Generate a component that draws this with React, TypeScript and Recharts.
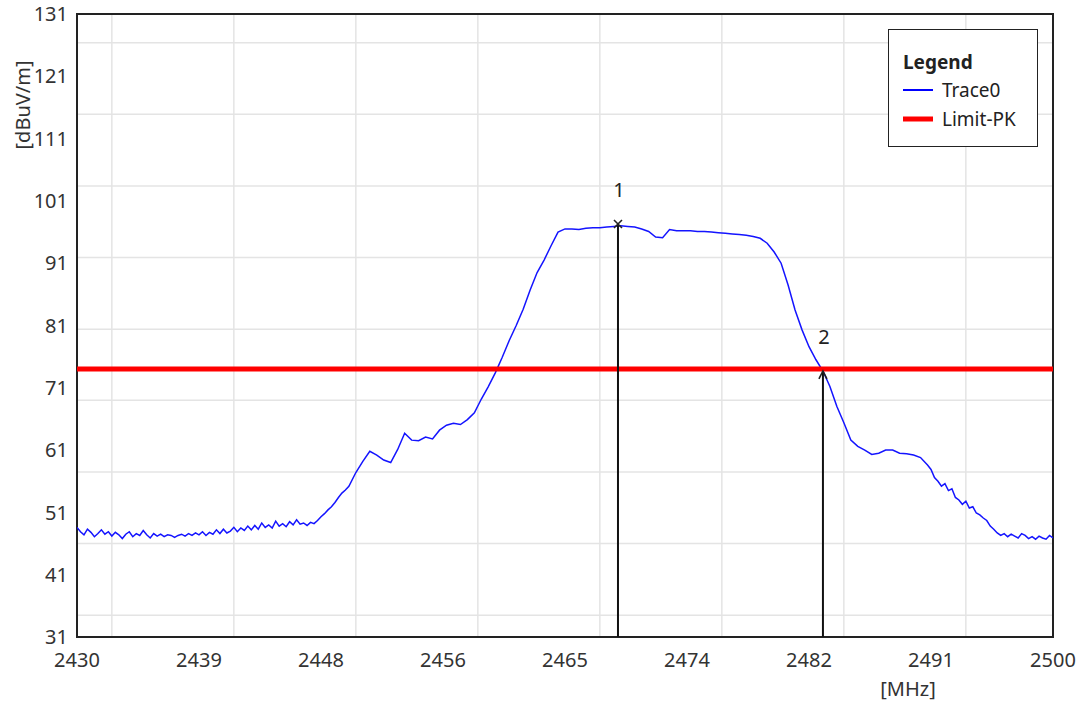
import {
  CartesianGrid,
  Label,
  Legend,
  Line,
  LineChart,
  ReferenceArea,
  ReferenceDot,
  ReferenceLine,
  XAxis,
  YAxis,
} from 'recharts'

const FONT = '"Noto Sans", "Open Sans", sans-serif'
const TRACE_COLOR = '#1414ff'
const LIMIT_COLOR = '#ff0000'

const X_TICKS = [2430, 2438.75, 2447.5, 2456.25, 2465, 2473.75, 2482.5, 2491.25, 2500]
const X_TICK_LABELS = ['2430', '2439', '2448', '2456', '2465', '2474', '2482', '2491', '2500']
const Y_TICKS = [31, 41, 51, 61, 71, 81, 91, 101, 111, 121, 131]
const GRID_X = [2432.5, 2441.25, 2450, 2458.75, 2467.5, 2476.25, 2485, 2493.75]
const GRID_Y = [34.5, 46, 57.5, 69, 80.4, 91.9, 103.4, 114.9, 126.4]

const LIMIT_PK = 74

const MARKERS = [
  { id: '1', f: 2468.8, level: 97.3, kind: 'cross' },
  { id: '2', f: 2483.5, level: 73.7, kind: 'arrow' },
]

// [MHz, dBuV/m]
const TRACE0: [number, number][] = [
  [2430.0, 48.6], [2430.25, 47.9], [2430.5, 47.4], [2430.75, 48.3], [2431.0, 47.8],
  [2431.25, 47.1], [2431.5, 47.6], [2431.75, 48.2], [2432.0, 47.5], [2432.25, 47.9],
  [2432.5, 47.2], [2432.75, 47.8], [2433.0, 47.4], [2433.25, 46.8], [2433.5, 47.5],
  [2433.75, 47.9], [2434.0, 47.1], [2434.25, 47.6], [2434.5, 47.3], [2434.75, 48.1],
  [2435.0, 47.4], [2435.25, 46.9], [2435.5, 47.6], [2435.75, 47.2], [2436.0, 47.5],
  [2436.25, 47.1], [2436.5, 47.4], [2436.75, 47.3], [2437.0, 47.0], [2437.25, 47.3],
  [2437.5, 47.5], [2437.75, 47.2], [2438.0, 47.6], [2438.25, 47.3], [2438.5, 47.7],
  [2438.75, 47.4], [2439.0, 47.9], [2439.25, 47.3], [2439.5, 47.8], [2439.75, 47.5],
  [2440.0, 48.2], [2440.25, 47.6], [2440.5, 48.3], [2440.75, 47.7], [2441.0, 48.0],
  [2441.25, 48.6], [2441.5, 47.9], [2441.75, 48.5], [2442.0, 48.1], [2442.25, 48.8],
  [2442.5, 48.2], [2442.75, 48.9], [2443.0, 48.3], [2443.25, 49.3], [2443.5, 48.6],
  [2443.75, 49.0], [2444.0, 48.5], [2444.25, 49.6], [2444.5, 48.8], [2444.75, 49.2],
  [2445.0, 48.7], [2445.25, 49.5], [2445.5, 49.0], [2445.75, 49.8], [2446.0, 49.1],
  [2446.25, 49.3], [2446.5, 48.9], [2446.75, 49.4], [2447.0, 49.2], [2447.25, 49.7],
  [2447.5, 50.3], [2447.75, 50.8], [2448.0, 51.4], [2448.25, 51.9], [2448.5, 52.6],
  [2448.75, 53.4], [2449.0, 54.1], [2449.25, 54.6], [2449.5, 55.2],
  [2450.0, 57.4], [2450.5, 59.2], [2451.0, 60.8], [2451.5, 60.2], [2452.0, 59.4],
  [2452.5, 59.0], [2453.0, 61.1], [2453.5, 63.7], [2454.0, 62.6], [2454.5, 62.5],
  [2455.0, 63.1], [2455.5, 62.8], [2456.0, 64.2], [2456.5, 65.0], [2457.0, 65.3],
  [2457.5, 65.1], [2458.0, 65.9], [2458.5, 67.0], [2459.0, 69.2], [2459.5, 71.2],
  [2460.0, 73.4], [2460.5, 75.9], [2461.0, 78.6], [2461.5, 81.0], [2462.0, 83.6],
  [2462.5, 86.7], [2463.0, 89.5], [2463.5, 91.5], [2464.0, 93.8], [2464.5, 96.0],
  [2465.0, 96.5], [2465.5, 96.5], [2466.0, 96.4], [2466.5, 96.6], [2467.0, 96.7],
  [2467.5, 96.7], [2468.0, 96.8], [2468.5, 96.9], [2469.0, 97.0], [2469.5, 96.9],
  [2470.0, 96.8], [2470.5, 96.5], [2471.0, 96.1], [2471.5, 95.2], [2472.0, 95.1],
  [2472.5, 96.4], [2473.0, 96.2], [2473.5, 96.2], [2474.0, 96.2], [2474.5, 96.1],
  [2475.0, 96.1], [2475.5, 96.0], [2476.0, 95.9], [2476.5, 95.8], [2477.0, 95.7],
  [2477.5, 95.6], [2478.0, 95.5], [2478.5, 95.3], [2479.0, 95.0], [2479.5, 94.2],
  [2480.0, 92.8], [2480.5, 91.0], [2481.0, 87.5], [2481.5, 83.5], [2482.0, 80.3],
  [2482.5, 77.6], [2483.0, 75.5], [2483.5, 73.7], [2484.0, 71.2], [2484.5, 68.0],
  [2485.0, 65.4], [2485.5, 62.6], [2486.0, 61.6], [2486.5, 61.0], [2487.0, 60.3],
  [2487.5, 60.5], [2488.0, 61.0], [2488.5, 61.0], [2489.0, 60.5], [2489.5, 60.4],
  [2490.0, 60.2], [2490.5, 59.8],
  [2491.0, 58.6], [2491.25, 57.9], [2491.5, 56.6], [2491.75, 56.0], [2492.0, 55.2],
  [2492.25, 55.6], [2492.5, 54.5], [2492.75, 54.8], [2493.0, 53.4], [2493.25, 53.0],
  [2493.5, 52.3], [2493.75, 52.8], [2494.0, 51.7], [2494.25, 51.9], [2494.5, 50.9],
  [2494.75, 50.6], [2495.0, 50.1], [2495.25, 49.7], [2495.5, 48.8], [2495.75, 48.3],
  [2496.0, 47.7], [2496.25, 47.3], [2496.5, 47.6], [2496.75, 47.1], [2497.0, 47.5],
  [2497.25, 47.2], [2497.5, 46.9], [2497.75, 47.6], [2498.0, 47.3], [2498.25, 46.8],
  [2498.5, 47.1], [2498.75, 46.7], [2499.0, 47.2], [2499.25, 46.9], [2499.5, 46.7],
  [2499.75, 47.3], [2500.0, 46.9],
]

const rows = TRACE0.map(([f, level]) => ({ f, level, limit: LIMIT_PK }))

const LEGEND_ITEMS = [
  { name: 'Trace0', color: '#0000ff', thickness: 2 },
  { name: 'Limit-PK', color: LIMIT_COLOR, thickness: 5 },
]

function MarkerGlyph({ cx, cy, id, kind }: { cx: number; cy: number; id: string; kind: string }) {
  return (
    <g>
      {kind === 'cross' ? (
        <path d={`M${cx - 4},${cy - 4}L${cx + 4},${cy + 4}M${cx + 4},${cy - 4}L${cx - 4},${cy + 4}`} stroke="#222" strokeWidth={1.6} />
      ) : (
        <path d={`M${cx - 4},${cy + 8}L${cx},${cy}L${cx + 4},${cy + 8}`} stroke="#222" strokeWidth={1.6} fill="none" />
      )}
      <text x={cx + 1} y={cy - 34} textAnchor="middle" dominantBaseline="central" fontSize={20} fill="#222" fontFamily={FONT}>
        {id}
      </text>
    </g>
  )
}

function LegendBox() {
  return (
    <div
      style={{
        width: 150,
        height: 118,
        boxSizing: 'border-box',
        border: '1.5px solid #222',
        background: '#fff',
        padding: '19px 0 0 14px',
        fontFamily: FONT,
        color: '#222',
      }}
    >
      <div style={{ fontWeight: 700, fontSize: 19, lineHeight: '26px' }}>Legend</div>
      {LEGEND_ITEMS.map((e) => (
        <div key={e.name} style={{ display: 'flex', alignItems: 'center', height: 29, fontSize: 19 }}>
          <svg width={30} height={8} style={{ marginRight: 9, flex: 'none' }}>
            <line x1={0} x2={30} y1={4} y2={4} stroke={e.color} strokeWidth={e.thickness} />
          </svg>
          {e.name}
        </div>
      ))}
    </div>
  )
}

export default function App() {
  return (
    <div style={{ position: 'absolute', left: 0, top: 0, width: 1081, height: 707 }}>
      <LineChart width={1081} height={707} data={rows} margin={{ top: 14, right: 28, left: 0, bottom: 0 }}>
        <CartesianGrid
          horizontalValues={GRID_Y}
          verticalValues={GRID_X}
          stroke="#e4e4e4"
          strokeWidth={1.5}
        />
        <XAxis
          dataKey="f"
          type="number"
          domain={[2430, 2500]}
          ticks={X_TICKS}
          tickFormatter={(_v: number, i: number) => X_TICK_LABELS[i]}
          interval={0}
          height={70}
          axisLine={false}
          tickLine={false}
          tickMargin={10}
          tick={{ fontSize: 20, fill: '#333', fontFamily: FONT }}
          allowDataOverflow
        >
          <Label
            content={(p: any) => (
              <text
                x={p.viewBox.x + 831}
                y={p.viewBox.y + 51}
                textAnchor="middle"
                dominantBaseline="central"
                fontSize={20}
                fill="#333"
                fontFamily={FONT}
              >
                [MHz]
              </text>
            )}
          />
        </XAxis>
        <YAxis
          type="number"
          domain={[31, 131]}
          ticks={Y_TICKS}
          interval={0}
          width={77}
          axisLine={false}
          tickLine={false}
          tickMargin={3}
          tick={{ fontSize: 20, fill: '#333', fontFamily: FONT }}
          allowDataOverflow
        >
          <Label
            content={(p: any) => (
              <text
                x={p.viewBox.x + 22}
                y={p.viewBox.y + 91}
                textAnchor="middle"
                dominantBaseline="central"
                fontSize={20}
                fill="#333"
                fontFamily={FONT}
                transform={`rotate(-90 ${p.viewBox.x + 22} ${p.viewBox.y + 91})`}
              >
                [dBuV/m]
              </text>
            )}
          />
        </YAxis>
        <Legend
          layout="horizontal"
          verticalAlign="middle"
          align="center"
          content={LegendBox}
          wrapperStyle={{ left: 888, top: 29, width: 150, height: 118 }}
        />
        <Line
          dataKey="level"
          name="Trace0"
          type="linear"
          stroke={TRACE_COLOR}
          strokeWidth={1.5}
          dot={false}
          activeDot={false}
          isAnimationActive={false}
        />
        <Line
          dataKey="limit"
          name="Limit-PK"
          type="linear"
          stroke={LIMIT_COLOR}
          strokeWidth={5}
          dot={false}
          activeDot={false}
          isAnimationActive={false}
        />
        {MARKERS.map((m) => (
          <ReferenceLine
            key={`l${m.id}`}
            segment={[{ x: m.f, y: 31 }, { x: m.f, y: m.level }]}
            stroke="#111"
            strokeWidth={2}
          />
        ))}
        {MARKERS.map((m) => (
          <ReferenceDot
            key={`d${m.id}`}
            x={m.f}
            y={m.level}
            r={4}
            shape={(p: any) => <MarkerGlyph cx={p.cx} cy={p.cy} id={m.id} kind={m.kind} />}
          />
        ))}
        <ReferenceArea x1={2430} x2={2500} y1={31} y2={131} fill="none" stroke="#222" strokeWidth={2} />
      </LineChart>
    </div>
  )
}
